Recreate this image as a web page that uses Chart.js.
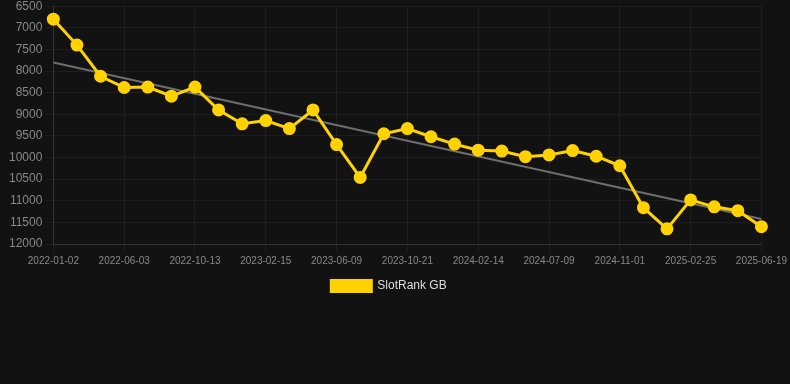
<!DOCTYPE html>
<html>
<head>
<meta charset="utf-8">
<script src="https://cdn.jsdelivr.net/npm/chart.js@4/dist/chart.umd.min.js"></script>
<style>
  html, body { margin: 0; padding: 0; background: #121212; overflow: hidden; }
  #wrap { position: relative; width: 790px; height: 306px; margin-top: -4px; }
</style>
</head>
<body>
<div id="wrap"><canvas id="c"></canvas></div>
<script>
const dates = [
  "2022-01-02","2022-02-21","2022-04-13","2022-06-03","2022-07-17","2022-08-30",
  "2022-10-13","2022-11-24","2023-01-04","2023-02-15","2023-03-25","2023-05-02",
  "2023-06-09","2023-07-23","2023-09-06","2023-10-21","2023-12-01","2024-01-08",
  "2024-02-14","2024-04-02","2024-05-21","2024-07-09","2024-08-16","2024-09-24",
  "2024-11-01","2024-12-10","2025-01-18","2025-02-25","2025-04-03","2025-05-11",
  "2025-06-19"
];
const rankGB = [
  6800, 7400, 8120, 8380, 8370, 8580,
  8370, 8900, 9220, 9145, 9330, 8900,
  9700, 10460, 9450, 9330, 9520, 9690,
  9830, 9850, 9980, 9940, 9840, 9970,
  10190, 11160, 11650, 10980, 11140, 11230,
  11600
];
const trendStart = 7800;
const trendEnd = 11420;
const trend = dates.map((d, i) => i === 0 ? trendStart : (i === dates.length - 1 ? trendEnd : null));
const yMin = 6500, yMax = 12000, yStep = 500;
const labelEvery = 3;

const FONT = "'Liberation Sans', Arial, Helvetica, sans-serif";
const GRID = 'rgba(255,255,255,0.05)';

const legendShift = {
  id: 'legendShift',
  afterLayout(chart) {
    if (chart.legend) { chart.legend.left -= 9; chart.legend.right -= 9; }
  }
};

new Chart(document.getElementById('c'), {
  type: 'line',
  data: {
    labels: dates,
    datasets: [
      {
        label: 'SlotRank GB',
        data: rankGB,
        borderColor: '#ffd200',
        backgroundColor: '#ffd200',
        borderWidth: 3,
        pointRadius: 5,
        pointHoverRadius: 5,
        pointBackgroundColor: '#ffd200',
        pointBorderColor: '#ffd200',
        tension: 0,
        order: 1
      },
      {
        label: 'trend',
        data: trend,
        borderColor: '#6e6e6e',
        backgroundColor: '#6e6e6e',
        borderWidth: 2,
        pointRadius: 0,
        spanGaps: true,
        tension: 0,
        order: 2
      }
    ]
  },
  plugins: [legendShift],
  options: {
    responsive: true,
    maintainAspectRatio: false,
    animation: false,
    layout: { padding: { left: 6, right: 0, top: 0, bottom: 0 } },
    plugins: {
      legend: {
        position: 'bottom',
        labels: {
          color: '#dddddd',
          font: { family: FONT, size: 12 },
          boxWidth: 40,
          boxHeight: 11,
          filter: (item) => item.text !== 'trend'
        }
      },
      tooltip: { enabled: false }
    },
    scales: {
      x: {
        grid: {
          color: (ctx) => (ctx.index % labelEvery === 0 ? GRID : 'rgba(0,0,0,0)'),
          tickColor: (ctx) => (ctx.index % labelEvery === 0 ? GRID : 'rgba(0,0,0,0)')
        },
        border: { color: 'rgba(255,255,255,0.1)' },
        ticks: {
          color: '#888888',
          font: { family: FONT, size: 10 },
          autoSkip: false,
          maxRotation: 0,
          callback: function(val, idx) { return idx % labelEvery === 0 ? this.getLabelForValue(val) : ''; }
        }
      },
      y: {
        reverse: true,
        min: yMin,
        max: yMax,
        grid: { color: GRID, tickColor: GRID },
        border: { color: 'rgba(255,255,255,0.1)' },
        ticks: {
          color: '#888888',
          font: { family: FONT, size: 12 },
          stepSize: yStep,
          callback: (v) => String(v)
        }
      }
    }
  }
});
</script>
</body>
</html>
